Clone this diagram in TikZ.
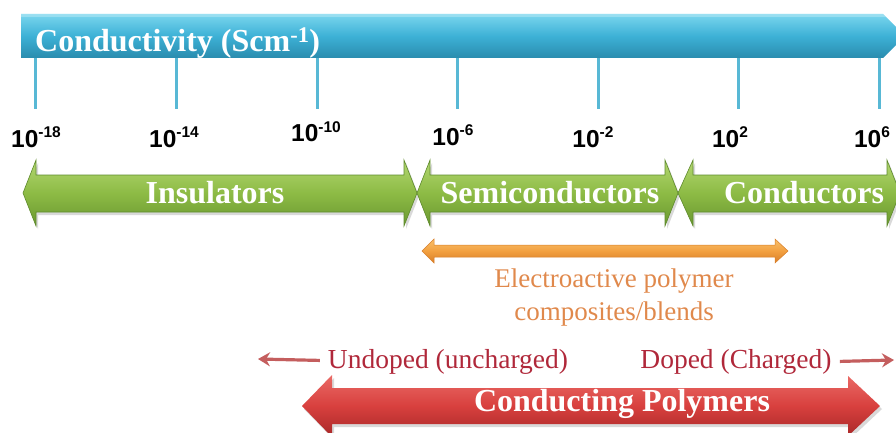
\documentclass[tikz,border=0pt]{standalone}
\usepackage{fontspec}
\setmainfont{Liberation Serif}
\newfontfamily\numfont{Liberation Sans}
\usetikzlibrary{arrows.meta,calc}

\definecolor{barTop}{HTML}{7AD6EE}
\definecolor{barMid}{HTML}{3DB1D6}
\definecolor{barBot}{HTML}{2A8CAE}
\definecolor{tickBlue}{HTML}{58B8D5}
\definecolor{grTop}{HTML}{B2D670}
\definecolor{grMid}{HTML}{8DBB45}
\definecolor{grBot}{HTML}{6A9830}
\definecolor{grEdge}{HTML}{5E8A2C}
\definecolor{orTop}{HTML}{F9C06A}
\definecolor{orMid}{HTML}{F2A040}
\definecolor{orBot}{HTML}{D87E28}
\definecolor{orText}{HTML}{E0894C}
\definecolor{rdTop}{HTML}{EA6A66}
\definecolor{rdMid}{HTML}{D8403E}
\definecolor{rdBot}{HTML}{A82828}
\definecolor{rdText}{HTML}{B0283A}
\definecolor{rdThin}{HTML}{C45E5E}

% superscript exponent for the axis labels
\newcommand\expo[1]{10\raisebox{9.5pt}{\fontsize{15.5}{15.5}\selectfont #1}}

\begin{document}
\begin{tikzpicture}[x=1pt,y=-1pt,
  bluebar/.style={top color=barTop, bottom color=barBot, middle color=barMid},
  tickline/.style={draw=tickBlue, line width=3pt},
  ticklab/.style={inner sep=0pt, anchor=base, font=\numfont\bfseries\fontsize{24.5}{24.5}\selectfont},
  greenarrow/.style={top color=grTop, bottom color=grBot, middle color=grMid, draw=grEdge, line width=0.6pt},
  orangearrow/.style={top color=orTop, bottom color=orBot, middle color=orMid, draw=orBot, line width=0.5pt},
  redarrow/.style={top color=rdTop, bottom color=rdBot, middle color=rdMid},
  boldwhite/.style={inner sep=0pt, anchor=base, text=white, font=\bfseries\fontsize{32}{32}\selectfont},
  orangetext/.style={inner sep=0pt, anchor=base, text=orText, font=\fontsize{27}{27}\selectfont},
  redtext/.style={inner sep=0pt, anchor=base, text=rdText, font=\fontsize{27.5}{27.5}\selectfont},
  thinarrow/.style={draw=rdThin, line width=3.2pt, -{Stealth[length=12pt,width=14pt,inset=4pt]}}]
\useasboundingbox (0,0) rectangle (896,433);
\clip (0,0) rectangle (896,433);

% conductivity axis
\path[bluebar] (21,14) -- (883,14) -- (905,36) -- (883,58) -- (21,58) -- cycle;
\fill[white, opacity=0.25] (21,14) -- (883,14) -- (886,17) -- (21,17) -- cycle;
\node[boldwhite, anchor=base west] (title) at (35,52) {Conductivity (Scm\textsuperscript{-1})};

% ticks and decade labels
\foreach \n/\x in {a/35,b/176,c/317,d/457,e/598,f/738,g/879}{
  \coordinate (t\n) at (\x,58);
  \coordinate (b\n) at (\x,109);
  \draw[tickline] (t\n) -- (b\n);
}
\node[ticklab] (l18) at (36,147) {\expo{-18}};
\node[ticklab] (l14) at (174,147) {\expo{-14}};
\node[ticklab] (l10) at (316,142) {\expo{-10}};
\node[ticklab] (l6)  at (453,145) {\expo{-6}};
\node[ticklab] (l2n) at (593,147) {\expo{-2}};
\node[ticklab] (l2)  at (730,147) {\expo{2}};
\node[ticklab] (l6p) at (872,147) {\expo{6}};

% material classes
\foreach \lt/\lb/\rb/\rt in {23/36/404/417, 417/430/665/678, 678/693/887/900}{
  \fill[black, opacity=0.15] (\lt+2,196) -- (\lb+2,163) -- (\lb+2,178) -- (\rb+2,178) -- (\rb+2,163) -- (\rt+2,196) -- (\rb+2,229) -- (\rb+2,215) -- (\lb+2,215) -- (\lb+2,229) -- cycle;
  \path[greenarrow] (\lt,193) -- (\lb,160) -- (\lb,175) -- (\rb,175) -- (\rb,160) -- (\rt,193) -- (\rb,226) -- (\rb,212) -- (\lb,212) -- (\lb,226) -- cycle;
}
\node[boldwhite] (ins) at (215,203) {Insulators};
\node[boldwhite] (semi) at (550,203) {Semiconductors};
\node[boldwhite] (cond) at (804,203) {Conductors};

% electroactive composites range
\path[orangearrow] (422,251) -- (434,239) -- (434,245) -- (775,245) -- (775,239) -- (788,251) -- (775,263) -- (775,257) -- (434,257) -- (434,263) -- cycle;
\node[orangetext] (eap) at (614,287) {Electroactive polymer};
\node[orangetext] (cb) at (614,320) {composites/blends};

% doping direction
\node[redtext] (undoped) at (448,368) {Undoped (uncharged)};
\node[redtext] (doped) at (736,368) {Doped (Charged)};
\coordinate (uEnd) at (258,359);
\coordinate (dEnd) at (894,360);
\draw[thinarrow] ($(undoped.west)+(-8,-1)$) -- (uEnd);
\draw[thinarrow] ($(doped.east)+(8,0)$) -- (dEnd);

% conducting polymers span
\fill[black, opacity=0.15] (304,409) -- (334,378) -- (334,391) -- (850,391) -- (850,379) -- (882,409) -- (850,439) -- (850,427) -- (334,427) -- (334,440) -- cycle;
\path[redarrow] (302,406) -- (332,375) -- (332,388) -- (848,388) -- (848,376) -- (880,406) -- (848,436) -- (848,424) -- (332,424) -- (332,437) -- cycle;
\node[boldwhite] (cp) at (622,411) {Conducting Polymers};
\end{tikzpicture}
\end{document}
